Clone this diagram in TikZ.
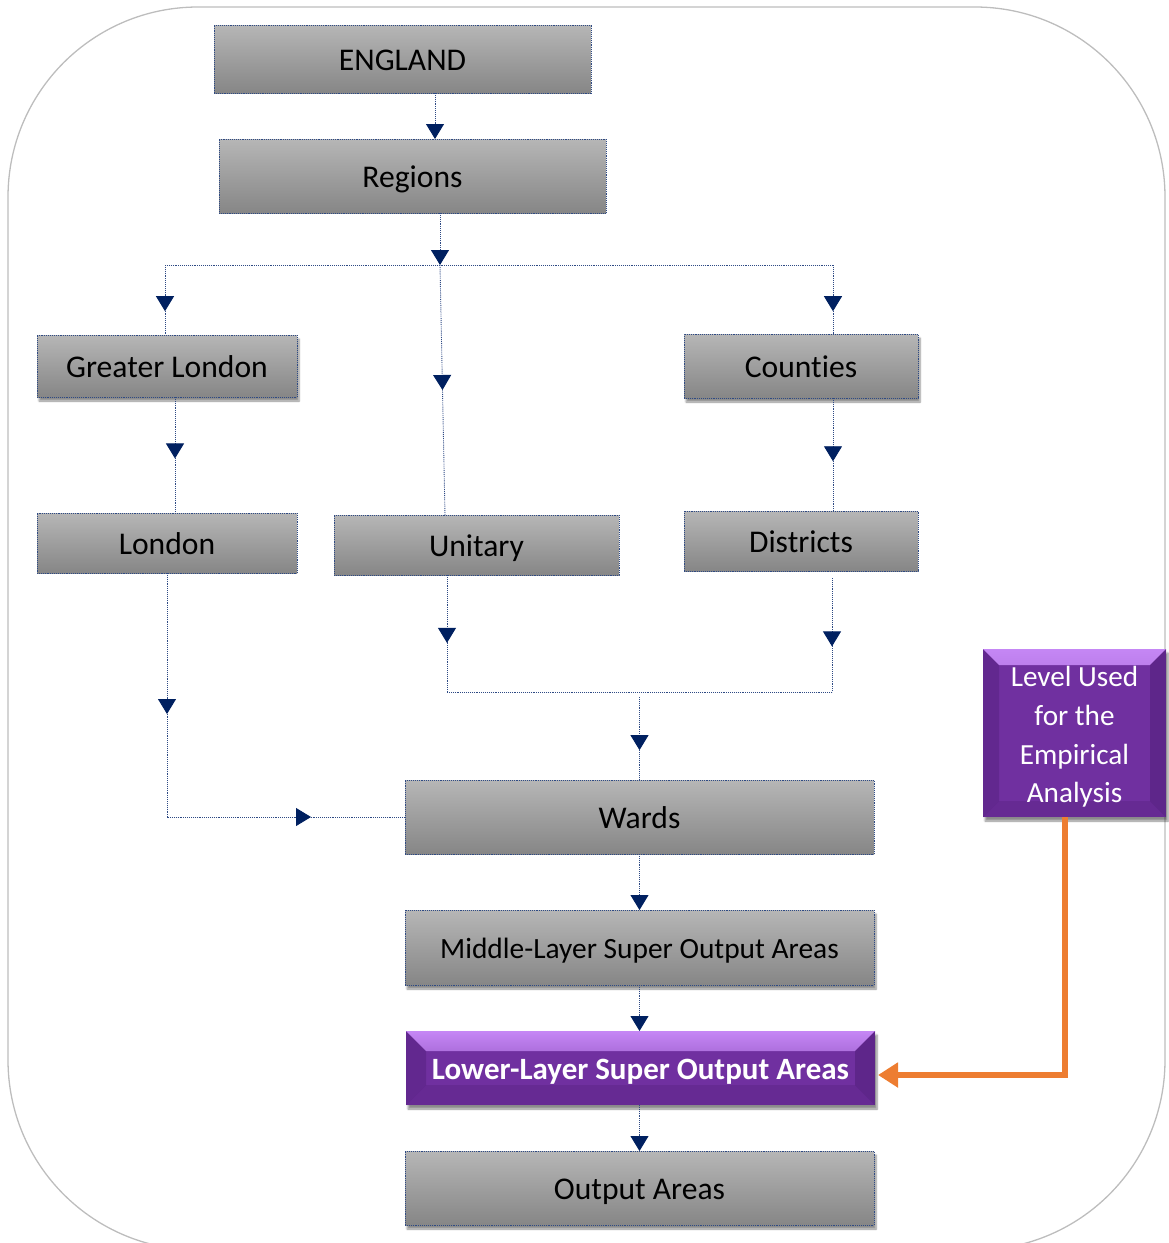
\documentclass[tikz,border=0pt]{standalone}
\usepackage{fontspec}
\setmainfont{Carlito}[Ligatures={NoCommon}]
\usetikzlibrary{arrows.meta,decorations.markings,shadows.blur,calc}
\definecolor{navy}{HTML}{002060}
\definecolor{lnav}{HTML}{2E4A84}
\definecolor{purp}{HTML}{7030A0}
\definecolor{purplt}{HTML}{C587F5}
\definecolor{purpdk}{HTML}{4A1A70}
\definecolor{orng}{HTML}{ED7D31}
\definecolor{framec}{HTML}{BDBDBD}
\definecolor{gtop}{HTML}{B6B6B6}
\definecolor{gbot}{HTML}{868686}
\tikzset{
  gbox/.style={draw=lnav, densely dotted, line width=0.9pt, top color=gtop, bottom color=gbot,
    outer sep=0pt, inner sep=0pt, text=black, text height=24pt, text depth=2pt,
    font=\fontsize{31.6}{37}\selectfont},
  shad/.style={blur shadow={shadow xshift=2pt, shadow yshift=-4pt, shadow blur steps=6, shadow opacity=45}},
  bevel/.style={fill=purp, outer sep=0pt, inner sep=0pt, text=white,
    path picture={
      \fill[top color=purplt, bottom color=purp] (path picture bounding box.north west) -- (path picture bounding box.north east)
        -- ([xshift=-#1, yshift=-#1]path picture bounding box.north east) -- ([xshift=#1, yshift=-#1]path picture bounding box.north west) -- cycle;
      \fill[purpdk, opacity=0.35] (path picture bounding box.north west) -- ([xshift=#1, yshift=-#1]path picture bounding box.north west)
        -- ([xshift=#1, yshift=#1]path picture bounding box.south west) -- (path picture bounding box.south west) -- cycle;
      \fill[purpdk, opacity=0.45] (path picture bounding box.north east) -- ([xshift=-#1, yshift=-#1]path picture bounding box.north east)
        -- ([xshift=-#1, yshift=#1]path picture bounding box.south east) -- (path picture bounding box.south east) -- cycle;
      \fill[purpdk, opacity=0.25] (path picture bounding box.south west) -- ([xshift=#1, yshift=#1]path picture bounding box.south west)
        -- ([xshift=-#1, yshift=#1]path picture bounding box.south east) -- (path picture bounding box.south east) -- cycle;
    }},
  conn/.style={draw=lnav, densely dotted, line width=0.9pt},
  endarr/.style={-{Triangle[width=18pt,length=15pt,color=navy]}},
  marr/.style={postaction={decorate, solid, decoration={markings,
      mark=at position #1 with {\arrow{Triangle[width=18pt,length=15pt,color=navy]}}}}}
}
\begin{document}
\begin{tikzpicture}[x=1pt, y=-1pt]
\useasboundingbox (0,0) rectangle (1169,1243);
% outer frame
\draw[framec, line width=1.3pt, rounded corners=190pt] (8,7) rectangle (1165,1250);

% nodes
\node[gbox, minimum width=377, minimum height=68] (eng) at (402.5,59) {ENGLAND};
\node[gbox, minimum width=387, minimum height=74] (reg) at (412.5,176) {Regions};
\node[gbox, shad, minimum width=260, minimum height=62] (gl) at (167,366) {Greater London};
\node[gbox, shad, minimum width=234, minimum height=64] (cty) at (801,366) {Counties};
\node[gbox, minimum width=260, minimum height=60] (lon) at (167,543) {London};
\node[gbox, minimum width=285, minimum height=60] (uni) at (476.5,545) {Unitary};
\node[gbox, minimum width=234, minimum height=60] (dis) at (801,541) {Districts};
\node[gbox, minimum width=469, minimum height=74] (wards) at (639.5,817) {Wards};
\node[gbox, shad, minimum width=469, minimum height=75, font=\fontsize{29.4}{35}\selectfont] (ml) at (639.5,947.5) {Middle-Layer Super Output Areas};
\node[bevel=20pt, shad, minimum width=469, minimum height=74, text height=24pt, text depth=2pt,
      font=\fontsize{31}{36}\selectfont\bfseries] (ll) at (640.5,1068) {Lower-Layer Super Output Areas};
\node[gbox, shad, minimum width=469, minimum height=74] (oa) at (639.5,1188) {Output Areas};
\node[bevel=16pt, shad, minimum width=183, minimum height=168] (lvl) at (1074.5,733) {};
\node[text=white, align=center, inner sep=0pt, font=\fontsize{29.2}{38.7}\selectfont] (lvltext)
      at ([yshift=-4pt]lvl.center) {Level Used\\for the\\Empirical\\Analysis};

% junction coordinates
\coordinate (j1) at (440,265);
\coordinate (tl) at (165,265);
\coordinate (tr) at (833,265);
\coordinate (jb1) at (447,692);
\coordinate (jb2) at (832,692);
\coordinate (jb3) at (639.5,697);

% connectors
\draw[conn, endarr] ([xshift=32.5pt]eng.south) -- ([xshift=22.5pt]reg.north);
\draw[conn, endarr] ([xshift=27.5pt]reg.south) -- (j1);
\draw[conn] (tl) -- (tr);
\draw[conn, marr=0.66] (tl) -- ([xshift=-2pt]gl.north);
\draw[conn, marr=0.67] (tr) -- ([xshift=32pt]cty.north);
\draw[conn, marr=0.5] (j1) -- ([xshift=-31.5pt]uni.north);
\draw[conn, marr=0.53] ([xshift=8pt]gl.south) -- ([xshift=8pt]lon.north);
\draw[conn, marr=0.56] ([xshift=32pt]cty.south) -- ([xshift=32pt]dis.north);
\draw[conn, marr=0.58] ([xshift=-29.5pt]uni.south) -- (jb1);
\draw[conn, marr=0.6] ([xshift=31pt,yshift=-7pt]dis.south) -- (jb2);
\draw[conn] (jb1) -- (jb2);
\draw[conn, marr=0.64] (jb3) -- (wards.north);
\draw[conn, postaction={decorate, solid, decoration={markings,
      mark=at position 141pt with {\arrow{Triangle[width=18pt,length=15pt,color=navy]}},
      mark=at position 388pt with {\arrow{Triangle[width=18pt,length=15pt,color=navy]}}}}]
  (lon.south) |- (wards.west);
\draw[conn, endarr] (wards.south) -- (ml.north);
\draw[conn, endarr] (ml.south) -- ([xshift=-1pt]ll.north);
\draw[conn, endarr] ([xshift=-1pt]ll.south) -- (oa.north);
\draw[orng, line width=6.5pt, -{Triangle[width=24pt,length=20pt]}]
  ([xshift=-9.5pt]lvl.south) |- ([xshift=3pt,yshift=-7pt]ll.east);
\end{tikzpicture}
\end{document}
